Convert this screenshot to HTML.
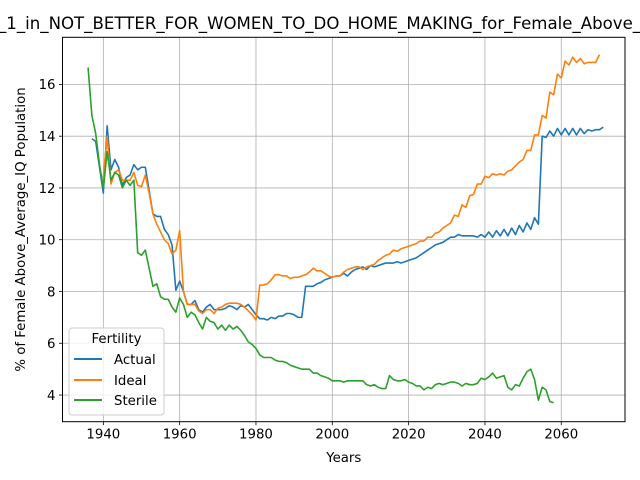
<!DOCTYPE html>
<html><head><meta charset="utf-8"><style>
html,body{margin:0;padding:0;background:#fff;}
svg{display:block;font-family:"DejaVu Sans","Liberation Sans",sans-serif;}
</style></head><body>
<svg id="chart" width="640" height="480" viewBox="0 0 640 480">
<rect width="640" height="480" fill="#fff"/>
<g id="grid"></g>
<g id="series"></g>
<rect x="62.5" y="37.3" width="562.5" height="384.4" fill="none" stroke="#000" stroke-width="1"/>
<g id="ticks"></g>
<text x="-2" y="29" font-size="16.6">_1_in_NOT_BETTER_FOR_WOMEN_TO_DO_HOME_MAKING_for_Female_Above_Average_IQ</text>
<text x="343.8" y="462" font-size="13.3" text-anchor="middle">Years</text>
<text transform="translate(25,229.5) rotate(-90)" font-size="13.3" text-anchor="middle">% of Female Above_Average_IQ Population</text>
<g>
<rect x="69" y="328" width="95" height="87" rx="3" fill="#fff" fill-opacity="0.8" stroke="#ccc"/>
<text x="116.5" y="343" font-size="13.3" text-anchor="middle">Fertility</text>
<g><line x1="74" y1="359" x2="102" y2="359" stroke="#1f77b4" stroke-width="2"/><text x="114" y="364" font-size="13.3">Actual</text></g>
<g><line x1="74" y1="380" x2="102" y2="380" stroke="#ff7f0e" stroke-width="2"/><text x="114" y="385" font-size="13.3">Ideal</text></g>
<g><line x1="74" y1="400" x2="102" y2="400" stroke="#2ca02c" stroke-width="2"/><text x="114" y="405" font-size="13.3">Sterile</text></g>
</g>
</svg>
<script>
const xTicks=[1940,1960,1980,2000,2020,2040,2060];
const yTicks=[4,6,8,10,12,14,16];
const actualStart=1937;
const actualValues=[13.9,13.8,12.8,11.8,14.4,12.7,13.1,12.8,12.1,12.4,12.5,12.9,12.7,12.8,12.8,11.9,11.0,10.9,10.9,10.4,10.2,9.8,8.05,8.4,8.0,7.5,7.5,7.65,7.3,7.2,7.4,7.5,7.3,7.3,7.3,7.35,7.45,7.4,7.3,7.45,7.4,7.5,7.3,7.1,6.95,6.95,6.9,7.0,6.95,7.05,7.05,7.15,7.15,7.1,7.0,7.0,8.2,8.2,8.2,8.3,8.35,8.45,8.5,8.55,8.6,8.6,8.7,8.6,8.75,8.85,8.9,8.95,8.85,9.0,8.95,9.0,9.05,9.1,9.1,9.1,9.15,9.1,9.15,9.2,9.25,9.3,9.4,9.5,9.6,9.7,9.8,9.85,9.9,10.0,10.1,10.1,10.2,10.15,10.15,10.15,10.15,10.1,10.2,10.1,10.3,10.1,10.35,10.15,10.4,10.15,10.45,10.2,10.55,10.3,10.65,10.4,10.85,10.6,14.0,13.95,14.2,14.0,14.3,14.05,14.3,14.05,14.3,14.05,14.3,14.1,14.25,14.2,14.25,14.25,14.35];
const idealStart=1940;
const idealValues=[12.4,14.0,12.15,12.6,12.7,12.3,12.3,12.3,12.6,12.1,12.05,12.5,11.8,11.0,10.6,10.3,10.0,9.85,9.45,9.6,10.35,8.0,7.5,7.5,7.5,7.25,7.15,7.3,7.3,7.15,7.35,7.4,7.5,7.55,7.55,7.55,7.5,7.4,7.25,7.1,6.9,8.25,8.25,8.3,8.45,8.65,8.65,8.6,8.6,8.5,8.55,8.55,8.6,8.65,8.75,8.9,8.8,8.8,8.7,8.6,8.55,8.6,8.6,8.75,8.85,8.9,8.95,8.95,8.85,8.95,9.0,9.05,9.2,9.3,9.4,9.45,9.6,9.55,9.65,9.7,9.75,9.8,9.85,9.95,9.95,10.1,10.1,10.25,10.3,10.45,10.55,10.65,10.95,10.9,11.35,11.25,11.7,11.75,12.15,12.15,12.45,12.4,12.55,12.5,12.55,12.5,12.65,12.7,12.85,13.0,13.1,13.45,13.45,14.05,14.05,14.8,14.7,15.7,15.6,16.4,16.25,16.9,16.75,17.05,16.85,17.0,16.8,16.85,16.85,16.85,17.15];
const sterileStart=1936;
const sterileValues=[16.65,14.8,14.1,12.9,12.0,13.4,12.3,12.6,12.5,12.0,12.3,12.1,12.3,9.5,9.4,9.6,8.9,8.2,8.3,7.8,7.7,7.7,7.4,7.2,7.75,7.5,7.0,7.2,7.1,6.8,6.55,7.0,6.85,6.8,6.55,6.7,6.5,6.7,6.55,6.65,6.5,6.3,6.05,5.95,5.8,5.55,5.45,5.45,5.45,5.35,5.3,5.3,5.25,5.15,5.1,5.05,5.0,5.0,5.0,4.85,4.85,4.75,4.7,4.65,4.55,4.55,4.55,4.5,4.55,4.55,4.55,4.55,4.55,4.4,4.35,4.4,4.3,4.25,4.25,4.75,4.6,4.55,4.55,4.6,4.5,4.45,4.35,4.35,4.2,4.3,4.25,4.4,4.45,4.4,4.45,4.5,4.5,4.45,4.35,4.45,4.4,4.4,4.45,4.65,4.6,4.7,4.85,4.65,4.7,4.75,4.3,4.2,4.4,4.35,4.65,4.9,5.0,4.6,3.8,4.3,4.2,3.75,3.7];
const X0=62.5,X1=625,Y0=421.7,Y1=37.3,XMIN=1929.3,XMAX=2076.7,YMIN=2.97,YMAX=17.82;
function xs(v){return X0+(v-XMIN)/(XMAX-XMIN)*(X1-X0);}
function ys(v){return Y0-(v-YMIN)/(YMAX-YMIN)*(Y0-Y1);}
const NS='http://www.w3.org/2000/svg';
const grid=document.getElementById('grid'),ticks=document.getElementById('ticks'),ser=document.getElementById('series');
function mk(tag,at,p){const e=document.createElementNS(NS,tag);for(const k in at)e.setAttribute(k,at[k]);p.appendChild(e);return e;}
xTicks.forEach(t=>{const x=xs(t);
 const g=mk('line',{x1:x,x2:x,y1:Y1,y2:Y0,stroke:'#b0b0b0','stroke-width':0.8},grid);
 
 
 mk('line',{x1:x,x2:x,y1:Y0,y2:Y0+3.5,stroke:'#000','stroke-width':0.8},ticks);
 const tx=mk('text',{x:x,y:Y0+17,'font-size':13.3,'text-anchor':'middle'},ticks);tx.textContent=t;
 
 });
yTicks.forEach(t=>{const y=ys(t);
 const g=mk('line',{x1:X0,x2:X1,y1:y,y2:y,stroke:'#b0b0b0','stroke-width':0.8},grid);
 
 
 mk('line',{x1:X0-3.5,x2:X0,y1:y,y2:y,stroke:'#000','stroke-width':0.8},ticks);
 const tx=mk('text',{x:X0-7,y:y+4.8,'font-size':13.3,'text-anchor':'end'},ticks);tx.textContent=t;
 
 });
function line(start,vals,color,name){const pts=vals.map((v,i)=>xs(start+i).toFixed(2)+','+ys(v).toFixed(2)).join(' ');
 const p=mk('polyline',{points:pts,fill:'none',stroke:color,'stroke-width':1.6,'stroke-linejoin':'round'},ser);
 
 }
line(actualStart,actualValues,'#1f77b4','actual-line');
line(idealStart,idealValues,'#ff7f0e','ideal-line');
line(sterileStart,sterileValues,'#2ca02c','sterile-line');
</script>
</body></html>
